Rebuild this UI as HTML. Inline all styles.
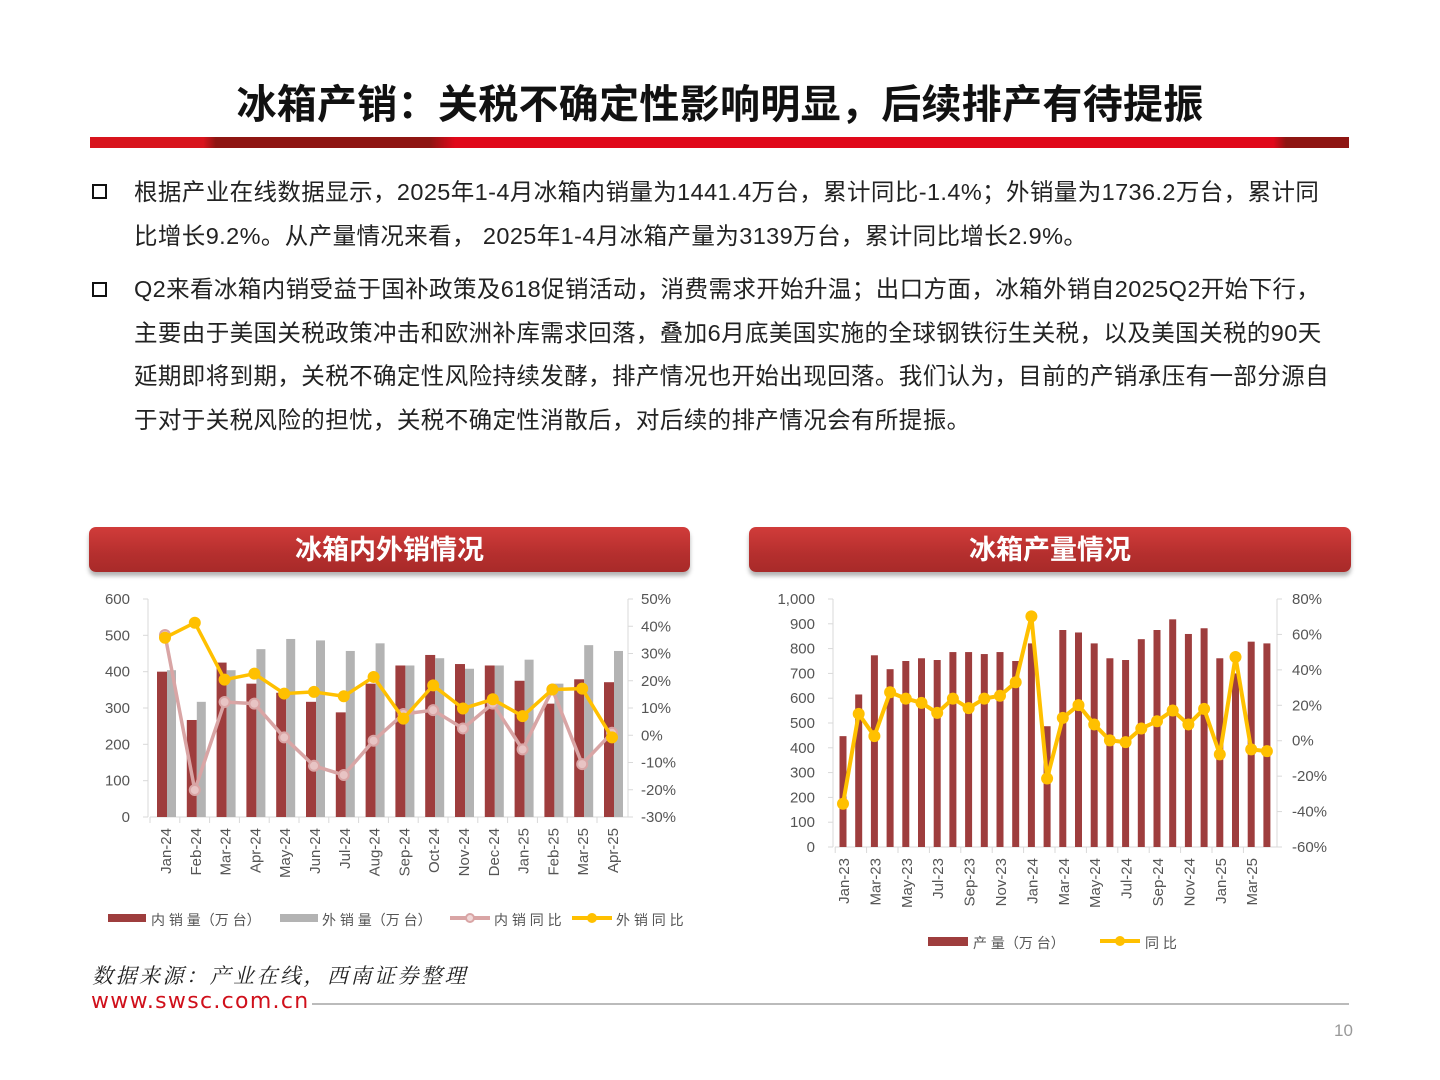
<!DOCTYPE html>
<html><head><meta charset="utf-8">
<style>
body{margin:0;width:1440px;height:1080px;background:#fff;position:relative;overflow:hidden;font-family:"Liberation Sans","Noto Sans CJK SC",sans-serif;}
.t{position:absolute;left:0;width:1440px;top:72px;text-align:center;font-size:40px;font-weight:bold;color:#111;letter-spacing:0.3px}
.bar{position:absolute;left:90px;top:137px;width:1259px;height:11px;background:linear-gradient(90deg,#d8141d 0%,#d8141d 9%,#8e1512 10%,#8e1512 27%,#e0081a 29%,#e0081a 94%,#8e1512 95%);}
.p{position:absolute;left:134px;width:1208px;font-size:23.5px;line-height:43.5px;color:#222;letter-spacing:0.4px}
.sq{position:absolute;left:92px;width:11px;height:11px;border:2px solid #111;}
.pan{position:absolute;top:527px;height:45px;border-radius:7px;background:linear-gradient(#d13c3a,#b52f2e 60%,#a82a29);box-shadow:0 4px 4px rgba(0,0,0,.3);color:#fff;font-weight:bold;font-size:27px;text-align:center;line-height:47px;}
svg{position:absolute;left:0;top:0}
svg text{font-family:"Liberation Sans","Noto Sans CJK SC",sans-serif;}
</style></head><body>
<div class="t">冰箱产销：关税不确定性影响明显，后续排产有待提振</div>
<div class="bar"></div>
<div class="sq" style="top:184px"></div>
<div class="p" style="top:171px">根据产业在线数据显示，2025年1-4月冰箱内销量为1441.4万台，累计同比-1.4%；外销量为1736.2万台，累计同<br>比增长9.2%。从产量情况来看， 2025年1-4月冰箱产量为3139万台，累计同比增长2.9%。</div>
<div class="sq" style="top:282px"></div>
<div class="p" style="top:268px">Q2来看冰箱内销受益于国补政策及618促销活动，消费需求开始升温；出口方面，冰箱外销自2025Q2开始下行，<br>主要由于美国关税政策冲击和欧洲补库需求回落，叠加6月底美国实施的全球钢铁衍生关税，以及美国关税的90天<br>延期即将到期，关税不确定性风险持续发酵，排产情况也开始出现回落。我们认为，目前的产销承压有一部分源自<br>于对于关税风险的担忧，关税不确定性消散后，对后续的排产情况会有所提振。</div>
<div class="pan" style="left:89px;width:601px">冰箱内外销情况</div>
<div class="pan" style="left:749px;width:602px">冰箱产量情况</div>
<svg id="s" width="1440" height="1080"></svg>
<div style="position:absolute;left:92px;top:960px;font-family:'Noto Serif CJK SC',serif;font-style:italic;font-size:21px;color:#222;letter-spacing:2.5px">数据来源：产业在线，西南证券整理</div>
<div style="position:absolute;left:91px;top:989px;font-size:22px;color:#d0101b;letter-spacing:1.3px;font-family:'DejaVu Sans',sans-serif">www.swsc.com.cn</div>
<div style="position:absolute;left:312px;top:1003px;width:1037px;height:2px;background:#bbb"></div>
<div style="position:absolute;left:1334px;top:1021px;font-size:17px;color:#999">10</div>
<script>
var s='';
function T(x,y,t,a,sz,c,rot){s+='<text x="'+x+'" y="'+y+'" font-size="'+(sz||15)+'" fill="'+(c||'#555')+'" text-anchor="'+(a||'start')+'"'+(rot?' transform="rotate(-90 '+x+' '+y+')"':'')+'>'+t+'</text>';}
function L(x1,y1,x2,y2,c,w){s+='<line x1="'+x1+'" y1="'+y1+'" x2="'+x2+'" y2="'+y2+'" stroke="'+(c||'#d9d9d9')+'" stroke-width="'+(w||1)+'"/>';}
function R(x,y,w,h,c){s+='<rect x="'+x+'" y="'+y+'" width="'+w+'" height="'+h+'" fill="'+c+'"/>';}
function P(pts,c,w,r,fill){s+='<polyline points="'+pts.map(p=>p.join(',')).join(' ')+'" fill="none" stroke="'+c+'" stroke-width="'+w+'" stroke-linejoin="round"/>';pts.forEach(p=>{s+='<circle cx="'+p[0]+'" cy="'+p[1]+'" r="'+r+'" fill="'+(fill||c)+'" stroke="'+c+'" stroke-width="2"/>';});}
var m1=['Jan-24','Feb-24','Mar-24','Apr-24','May-24','Jun-24','Jul-24','Aug-24','Sep-24','Oct-24','Nov-24','Dec-24','Jan-25','Feb-25','Mar-25','Apr-25'];
var d=[400,267,425,367,342,317,288,367,417,446,421,417,375,312,379,371];
var e=[404,317,404,462,490,486,457,478,417,437,408,417,433,367,473,457];
var dy=[37,-19.9,12.4,11.8,-0.6,-11,-14.4,-1.8,8,9.4,2.7,11.8,-5,17,-10.4,1.1];
var ey=[36,41.5,20.6,22.8,15.5,16.1,14.5,21.6,6.3,18.5,10,13.4,7.2,17,17.3,-0.6];
var y0=817,sc=218/600;
function yp(v){return 735.8-v*2.725;}
L(148,599,148,817);L(150,817,628,817);L(628,599,628,817);
for(var i=0;i<=6;i++){var y=y0-i*100*sc;T(130,y+5,i*100,'end',15);L(143,y,148,y);}
for(var i=0;i<=8;i++){var y=599+i*27.25;T(641,y+5,(50-i*10)+'%','start',15);L(628,y,633,y);}
for(var i=0;i<16;i++){var cx=165+i*29.8;
R(cx-8,y0-d[i]*sc,10,d[i]*sc,'#9e3d3d');R(cx+2,y0-e[i]*sc,9,e[i]*sc,'#b3b3b3');
L(150+i*29.8,817,150+i*29.8,823);T(cx+6,828,m1[i],'end',15,'#555',1);}
P(dy.map((v,i)=>[165+i*29.8,yp(v)]),'#d9a5a5',3.5,5,'#e8c4c4');
P(ey.map((v,i)=>[165+i*29.8,yp(v)]),'#ffc000',3.5,5);
R(108,914,38,8,'#9e3d3d');T(151,925,'内 销 量（万 台）','start',14,'#555');
R(280,914,38,8,'#b3b3b3');T(322,925,'外 销 量（万 台）','start',14,'#555');
L(450,918,490,918,'#d9a5a5',4);s+='<circle cx="470" cy="918" r="4" fill="#f0d8d8" stroke="#d9a5a5" stroke-width="2"/>';T(494,925,'内 销 同 比','start',14,'#555');
L(572,918,612,918,'#ffc000',4);s+='<circle cx="592" cy="918" r="5" fill="#ffc000"/>';T(616,925,'外 销 同 比','start',14,'#555');
var mm=['Jan','Feb','Mar','Apr','May','Jun','Jul','Aug','Sep','Oct','Nov','Dec'];
var pr=[447,615,773,717,750,761,754,786,786,778,786,750,821,487,875,865,821,761,754,838,875,918,859,882,761,700,828,821];
var py=[-35,15.8,3.2,28,24.4,22,16.3,24.4,19,24.4,26,33.6,70.8,-20.7,13.5,20.7,9.8,0.8,-0.2,7.5,11.6,17.7,9.8,18.6,-7.1,47.9,-4.3,-5.3];
var b0=847,s2=248/1000;function y2(v){return 741.8-v*1.771;}
L(833,599,833,847);L(835,847,1277,847);L(1277,599,1277,847);
for(var i=0;i<=10;i++){var y=b0-i*100*s2;T(815,y+5,i==10?'1,000':i*100,'end',15);L(828,y,833,y);}
for(var i=0;i<=7;i++){var y=599+i*35.43;T(1292,y+5,(80-i*20)+'%','start',15);L(1277,y,1282,y);}
var st=15.7,x0=843;
for(var i=0;i<28;i++){var cx=x0+i*st;R(cx-3.5,b0-pr[i]*s2,7,pr[i]*s2,'#9e3d3d');
if(i%2==0){L(cx-7.8,847,cx-7.8,853);T(cx+6,858,mm[i%12]+'-'+(23+Math.floor(i/12)),'end',15,'#555',1);}}
P(py.map((v,i)=>[x0+i*st,y2(v)]),'#ffc000',4,5);
R(928,937,40,9,'#9e3d3d');T(973,948,'产 量（万 台）','start',14,'#555');
L(1100,941,1140,941,'#ffc000',4);s+='<circle cx="1120" cy="941" r="5" fill="#ffc000"/>';T(1145,948,'同 比','start',14,'#555');
document.getElementById('s').innerHTML=s;
</script>
</body></html>
